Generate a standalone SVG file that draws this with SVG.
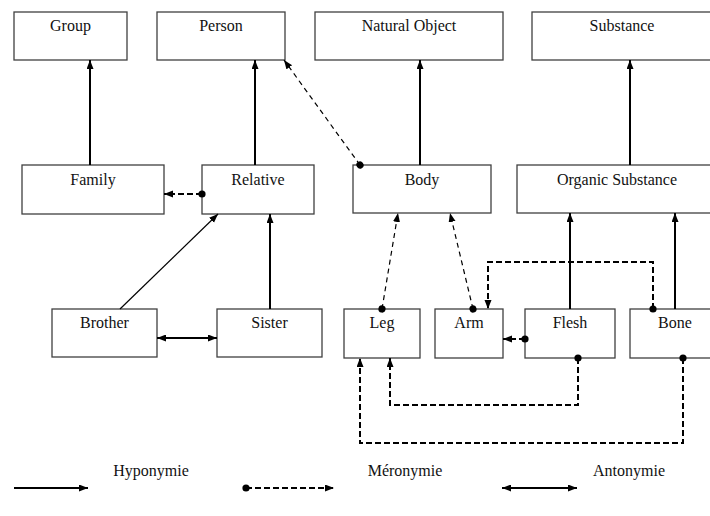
<svg xmlns="http://www.w3.org/2000/svg" width="710" height="516" viewBox="0 0 710 516">
  <style>
    .box { fill: #ffffff; stroke: #404040; stroke-width: 1.3; }
    .lbl { font-family: "Liberation Serif", "Times New Roman", serif; font-size: 16px; fill: #111; text-anchor: middle; }
    .hypo { fill: none; stroke: #000; stroke-width: 2; }
    .thin { fill: none; stroke: #000; stroke-width: 1.2; }
    .mero { fill: none; stroke: #000; stroke-width: 2; stroke-dasharray: 6 3; }
    .mero-thin { fill: none; stroke: #000; stroke-width: 1.2; stroke-dasharray: 5 4; }
  </style>
  <defs>
    <marker id="arrow" markerUnits="userSpaceOnUse" markerWidth="10" markerHeight="8" refX="9" refY="3.5" orient="auto">
      <path d="M0,0 L9,3.5 L0,7 z" fill="#000"/>
    </marker>
    <marker id="arrow-start" markerUnits="userSpaceOnUse" markerWidth="10" markerHeight="8" refX="0" refY="3.5" orient="auto">
      <path d="M9,0 L0,3.5 L9,7 z" fill="#000"/>
    </marker>
    <marker id="dot" markerUnits="userSpaceOnUse" markerWidth="9" markerHeight="9" refX="4.5" refY="4.5" orient="auto">
      <circle cx="4.5" cy="4.5" r="3.6" fill="#000"/>
    </marker>
  </defs>

  <rect width="710" height="516" fill="#ffffff"/>

  <!-- top row -->
  <g id="group"><rect class="box" x="14" y="12" width="113" height="48"/><text class="lbl" x="70.5" y="31">Group</text></g>
  <g id="person"><rect class="box" x="157" y="12" width="128" height="48"/><text class="lbl" x="221" y="31">Person</text></g>
  <g id="natural-object"><rect class="box" x="315" y="12" width="188" height="48"/><text class="lbl" x="409" y="31">Natural Object</text></g>
  <g id="substance"><rect class="box" x="532" y="12" width="180" height="48"/><text class="lbl" x="622" y="31">Substance</text></g>

  <!-- middle row -->
  <g id="family"><rect class="box" x="22" y="165" width="142" height="49"/><text class="lbl" x="93" y="184.5">Family</text></g>
  <g id="relative"><rect class="box" x="202" y="165" width="112" height="49"/><text class="lbl" x="258" y="184.5">Relative</text></g>
  <g id="body"><rect class="box" x="353" y="165" width="138" height="48"/><text class="lbl" x="422" y="184.5">Body</text></g>
  <g id="organic-substance"><rect class="box" x="517" y="165" width="200" height="48"/><text class="lbl" x="617" y="184.5">Organic Substance</text></g>

  <!-- bottom row -->
  <g id="brother"><rect class="box" x="52" y="309" width="105" height="48"/><text class="lbl" x="104.5" y="328">Brother</text></g>
  <g id="sister"><rect class="box" x="217" y="309" width="105" height="48"/><text class="lbl" x="269.5" y="328">Sister</text></g>
  <g id="leg"><rect class="box" x="344" y="309" width="76" height="49"/><text class="lbl" x="382" y="328">Leg</text></g>
  <g id="arm"><rect class="box" x="435" y="309" width="68" height="49"/><text class="lbl" x="469" y="328">Arm</text></g>
  <g id="flesh"><rect class="box" x="525" y="309" width="90" height="49"/><text class="lbl" x="570" y="328">Flesh</text></g>
  <g id="bone"><rect class="box" x="630" y="309" width="90" height="49"/><text class="lbl" x="675" y="328">Bone</text></g>

  <g id="connectors">
    <!-- hyponymy -->
    <path class="hypo" d="M90,165 L90,60" marker-end="url(#arrow)"/>
    <path class="hypo" d="M255,165 L255,60" marker-end="url(#arrow)"/>
    <path class="hypo" d="M420,165 L420,60" marker-end="url(#arrow)"/>
    <path class="hypo" d="M630,165 L630,60" marker-end="url(#arrow)"/>
    <path class="thin" d="M120,309 L218,214" marker-end="url(#arrow)"/>
    <path class="hypo" d="M270,309 L270,214" marker-end="url(#arrow)"/>
    <path class="hypo" d="M570,309 L570,213" marker-end="url(#arrow)"/>
    <path class="hypo" d="M675,309 L675,213" marker-end="url(#arrow)"/>

    <!-- antonymy -->
    <path class="hypo" d="M157,338 L217,338" marker-start="url(#arrow-start)" marker-end="url(#arrow)"/>

    <!-- meronymy -->
    <path class="mero-thin" d="M360,165 L284,60" marker-start="url(#dot)" marker-end="url(#arrow)"/>
    <path class="mero" d="M202,194 L164,194" marker-start="url(#dot)" marker-end="url(#arrow)"/>
    <path class="mero-thin" d="M382,309 L398,213" marker-start="url(#dot)" marker-end="url(#arrow)"/>
    <path class="mero-thin" d="M473,309 L450,213" marker-start="url(#dot)" marker-end="url(#arrow)"/>
    <path class="mero" d="M653,309 V262 H488 V309" marker-start="url(#dot)" marker-end="url(#arrow)"/>
    <path class="mero" d="M525,339 H503" marker-start="url(#dot)" marker-end="url(#arrow)"/>
    <path class="mero" d="M578,358 V405 H390 V358" marker-start="url(#dot)" marker-end="url(#arrow)"/>
    <path class="mero" d="M683,358 V443 H360 V358" marker-start="url(#dot)" marker-end="url(#arrow)"/>
  </g>

  <!-- legend -->
  <g id="legend">
    <path class="hypo" d="M14,488 H88" marker-end="url(#arrow)"/>
    <text class="lbl" x="151" y="476">Hyponymie</text>
    <path class="mero" d="M246,488 H334" marker-start="url(#dot)" marker-end="url(#arrow)"/>
    <text class="lbl" x="405" y="476">Méronymie</text>
    <path class="hypo" d="M502,488 H577" marker-start="url(#arrow-start)" marker-end="url(#arrow)"/>
    <text class="lbl" x="629" y="476">Antonymie</text>
  </g>
</svg>
